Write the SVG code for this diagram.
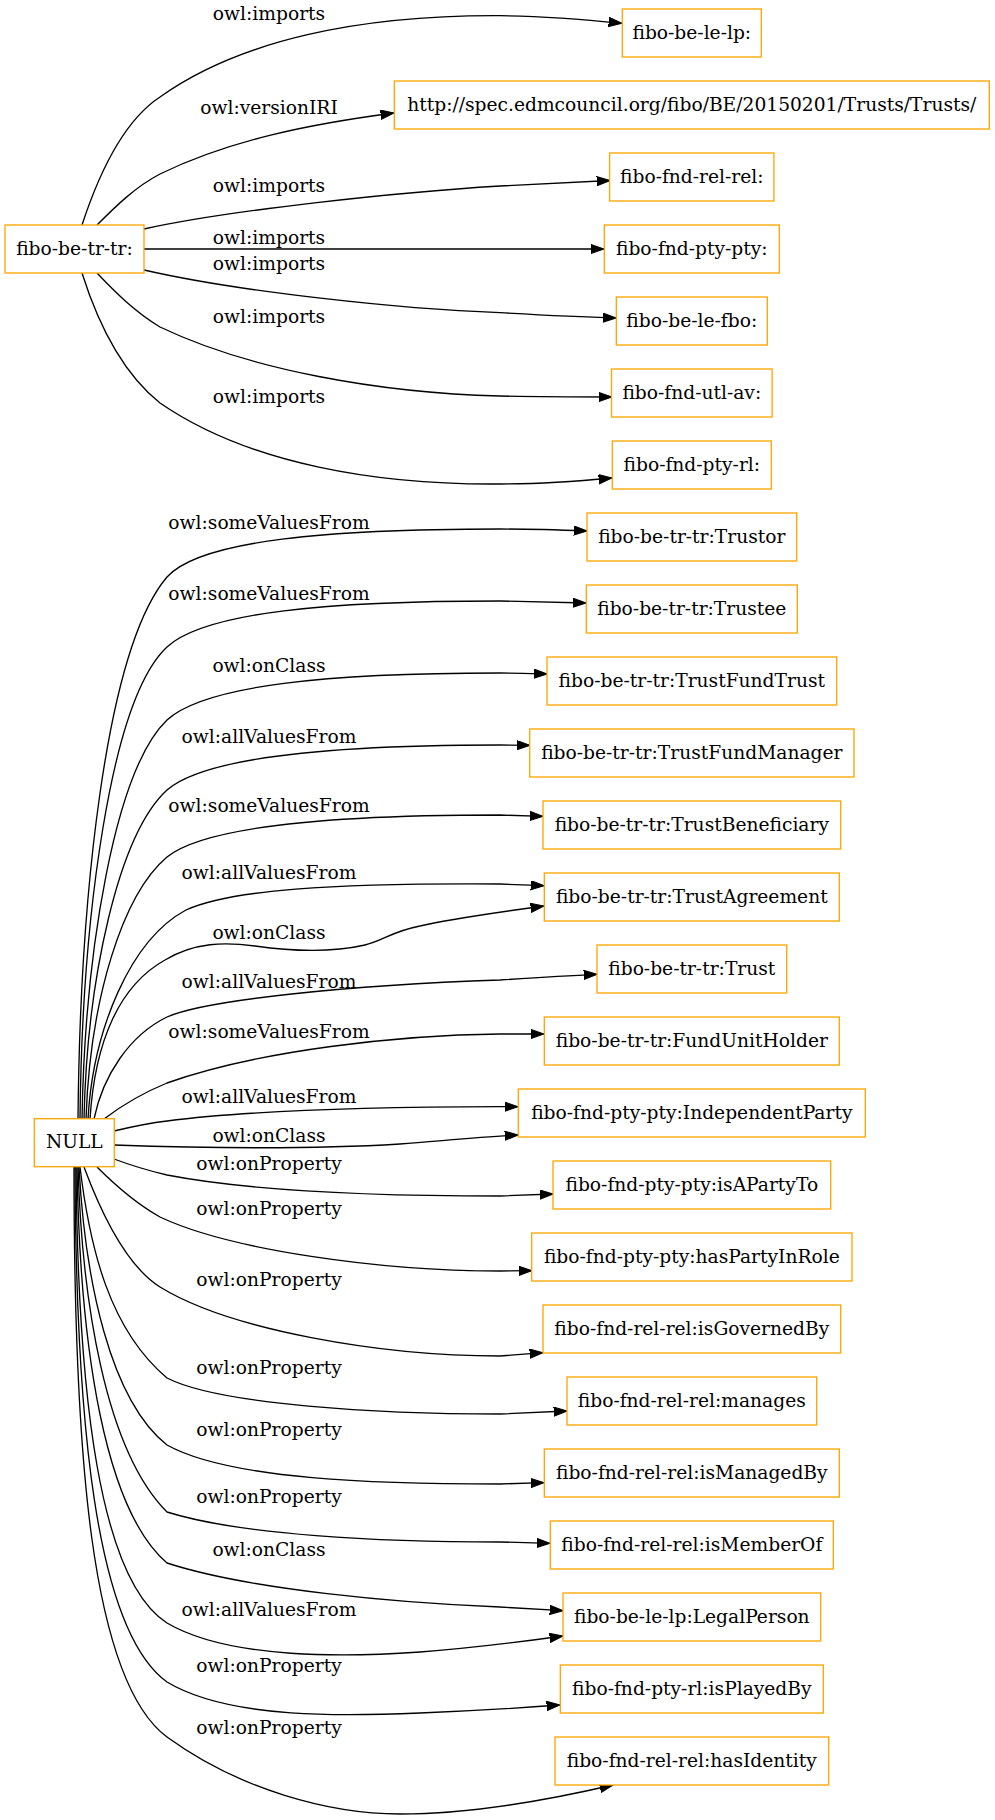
<svg xmlns="http://www.w3.org/2000/svg" width="995" height="1820" viewBox="0 0 995 1820">
<style>
.node rect{fill:#fff;stroke:#ffa500;stroke-width:1.33}
.node text,.lbl{font-family:"DejaVu Serif","Liberation Serif",serif;font-size:18.67px;fill:#000;text-anchor:middle}
.edges path{fill:none;stroke:#000;stroke-width:1.33;marker-end:url(#ah)}
</style>
<defs>
<marker id="ah" markerUnits="userSpaceOnUse" markerWidth="14" markerHeight="10" refX="13.33" refY="4.67" orient="auto">
<path d="M0,0 L13.33,4.67 L0,9.33 z" fill="#000" stroke="#000" stroke-width="1"/>
</marker>
</defs>
<rect width="995" height="1820" fill="#fff"/>
<g class="edges" id="connectors">
<path d="M82,225 C100,170 125,120 160,97 C240,40 360,15 500,15.7 C540,16 580,19 622,23.3"/>
<text class="lbl" x="269" y="20">owl:imports</text>
<path d="M97,225 C115,207 135,187 160,174 C230,140 310,124 394,113"/>
<text class="lbl" x="269" y="114">owl:versionIRI</text>
<path d="M144,229 C230,210 400,192 500,186 C540,184 580,182 610,180.5"/>
<text class="lbl" x="269" y="192">owl:imports</text>
<path d="M144,249 L604,249"/>
<text class="lbl" x="269" y="244">owl:imports</text>
<path d="M144,270 C240,292 400,309 500,312.7 C540,315 580,317 616,318"/>
<text class="lbl" x="269" y="270">owl:imports</text>
<path d="M97,273 C115,292 135,312 160,327 C250,370 380,393 500,396 C540,397 580,397 612,397"/>
<text class="lbl" x="269" y="323">owl:imports</text>
<path d="M82,273 C100,330 125,375 160,403 C250,465 380,485 500,484 C540,484 580,481 612,478"/>
<text class="lbl" x="269" y="403">owl:imports</text>

<path d="M78,1119 C80,900 105,650 167,577 C200,540 330,529 500,529 C530,529 560,530 587,531"/>
<text class="lbl" x="269" y="529">owl:someValuesFrom</text>
<path d="M80,1119 C82,920 110,700 167,647 C205,612 330,601 500,601 C530,601.5 560,602.5 586,603"/>
<text class="lbl" x="269" y="600">owl:someValuesFrom</text>
<path d="M82,1119 C85,950 115,770 167,720 C205,685 330,673 500,673 C515,673 530,673.5 547,674"/>
<text class="lbl" x="269" y="672">owl:onClass</text>
<path d="M84,1119 C87,980 118,835 167,790 C205,757 330,745 500,745 L530,745.3"/>
<text class="lbl" x="269" y="743">owl:allValuesFrom</text>
<path d="M86,1119 C90,1000 122,895 167,857 C205,826 330,815 500,815 L543,816.3"/>
<text class="lbl" x="269" y="812">owl:someValuesFrom</text>
<path d="M88,1119 C93,1030 130,940 186,910 C230,890 330,883 500,884 L544,885.7"/>
<text class="lbl" x="269" y="879">owl:allValuesFrom</text>
<path d="M90,1119 C95,1040 120,985 165,960 C195,942 225,942 255,946 C290,951 330,953 365,945 C385,940 390,932 420,926 C450,919 500,912 544,906"/>
<text class="lbl" x="269" y="939">owl:onClass</text>
<path d="M94,1119 C103,1075 130,1035 167,1017 C205,1000 350,985 500,980 C530,978 560,976 597,974.3"/>
<text class="lbl" x="269" y="988">owl:allValuesFrom</text>
<path d="M104,1119 C125,1103 145,1092 167,1083 C260,1050 400,1035 500,1034 L544,1034"/>
<text class="lbl" x="269" y="1038">owl:someValuesFrom</text>
<path d="M114,1131 C135,1126 150,1123 167,1121 C260,1109 400,1107 500,1106.7 L518,1106.7"/>
<text class="lbl" x="269" y="1103">owl:allValuesFrom</text>
<path d="M114,1145 C200,1148 300,1150 400,1144 C440,1141 480,1137 518,1135"/>
<text class="lbl" x="269" y="1142">owl:onClass</text>
<path d="M114,1159 C130,1165 150,1171 167,1175 C260,1193 400,1196 500,1196 L553,1194"/>
<text class="lbl" x="269" y="1170">owl:onProperty</text>
<path d="M97,1167 C115,1185 135,1203 160,1217 C230,1250 380,1271 500,1271 L532,1270.7"/>
<text class="lbl" x="269" y="1215">owl:onProperty</text>
<path d="M84,1167 C100,1210 125,1265 160,1287 C230,1330 380,1356 500,1356 L543,1352.7"/>
<text class="lbl" x="269" y="1286">owl:onProperty</text>
<path d="M80,1167 C90,1250 110,1330 167,1378 C220,1405 380,1414 500,1414 L567,1411"/>
<text class="lbl" x="269" y="1374">owl:onProperty</text>
<path d="M79,1167 C85,1280 110,1400 167,1445 C230,1480 380,1484 500,1484 L544,1482.7"/>
<text class="lbl" x="269" y="1436">owl:onProperty</text>
<path d="M78,1167 C82,1300 105,1450 167,1512 C240,1535 380,1542 500,1542 L550,1543.3"/>
<text class="lbl" x="269" y="1503">owl:onProperty</text>
<path d="M77,1167 C80,1350 105,1510 167,1563 C250,1590 400,1603 500,1607 L563,1610.7"/>
<text class="lbl" x="269" y="1556">owl:onClass</text>
<path d="M76,1167 C78,1400 100,1580 167,1623 C230,1660 350,1657 420,1652 C460,1649 520,1642 563,1636"/>
<text class="lbl" x="269" y="1616">owl:allValuesFrom</text>
<path d="M75,1167 C76,1420 95,1630 167,1682 C230,1720 350,1716 420,1713 C470,1711 520,1708 560,1705"/>
<text class="lbl" x="269" y="1672">owl:onProperty</text>
<path d="M74,1167 C74,1450 90,1680 167,1737 C240,1790 330,1814 400,1814 C470,1814 540,1802 613,1785"/>
<text class="lbl" x="269" y="1734">owl:onProperty</text>
</g>

<g class="node" id="n-fibo-be-tr-tr"><rect x="5" y="225" width="139" height="48"/><text x="74.5" y="254.5">fibo-be-tr-tr:</text></g>
<g class="node" id="n-NULL"><rect x="34.3" y="1118.7" width="80" height="48"/><text x="74.3" y="1148.2">NULL</text></g>

<g class="node" id="n-fibo-be-le-lp"><rect x="622.3" y="9" width="139" height="48"/><text x="691.8" y="38.5">fibo-be-le-lp:</text></g>
<g class="node" id="n-versionIRI"><rect x="394.3" y="81" width="595" height="48"/><text x="691.8" y="110.5">http://spec.edmcouncil.org/fibo/BE/20150201/Trusts/Trusts/</text></g>
<g class="node" id="n-fibo-fnd-rel-rel"><rect x="609.6" y="153" width="164.3" height="48"/><text x="691.8" y="182.5">fibo-fnd-rel-rel:</text></g>
<g class="node" id="n-fibo-fnd-pty-pty"><rect x="604.3" y="225" width="175" height="48"/><text x="691.8" y="254.5">fibo-fnd-pty-pty:</text></g>
<g class="node" id="n-fibo-be-le-fbo"><rect x="616.3" y="297" width="151" height="48"/><text x="691.8" y="326.5">fibo-be-le-fbo:</text></g>
<g class="node" id="n-fibo-fnd-utl-av"><rect x="611.5" y="369" width="160.6" height="48"/><text x="691.8" y="398.5">fibo-fnd-utl-av:</text></g>
<g class="node" id="n-fibo-fnd-pty-rl"><rect x="612.3" y="441" width="159" height="48"/><text x="691.8" y="470.5">fibo-fnd-pty-rl:</text></g>
<g class="node" id="n-Trustor"><rect x="587" y="513" width="209.7" height="48"/><text x="691.8" y="542.5">fibo-be-tr-tr:Trustor</text></g>
<g class="node" id="n-Trustee"><rect x="586.3" y="585" width="211" height="48"/><text x="691.8" y="614.5">fibo-be-tr-tr:Trustee</text></g>
<g class="node" id="n-TrustFundTrust"><rect x="547" y="657" width="289.7" height="48"/><text x="691.8" y="686.5">fibo-be-tr-tr:TrustFundTrust</text></g>
<g class="node" id="n-TrustFundManager"><rect x="529.7" y="729" width="324.3" height="48"/><text x="691.8" y="758.5">fibo-be-tr-tr:TrustFundManager</text></g>
<g class="node" id="n-TrustBeneficiary"><rect x="543" y="801" width="297.7" height="48"/><text x="691.8" y="830.5">fibo-be-tr-tr:TrustBeneficiary</text></g>
<g class="node" id="n-TrustAgreement"><rect x="544.3" y="873" width="295" height="48"/><text x="691.8" y="902.5">fibo-be-tr-tr:TrustAgreement</text></g>
<g class="node" id="n-Trust"><rect x="597" y="945" width="189.7" height="48"/><text x="691.8" y="974.5">fibo-be-tr-tr:Trust</text></g>
<g class="node" id="n-FundUnitHolder"><rect x="544.3" y="1017" width="295" height="48"/><text x="691.8" y="1046.5">fibo-be-tr-tr:FundUnitHolder</text></g>
<g class="node" id="n-IndependentParty"><rect x="518.3" y="1089" width="347" height="48"/><text x="691.8" y="1118.5">fibo-fnd-pty-pty:IndependentParty</text></g>
<g class="node" id="n-isAPartyTo"><rect x="553" y="1161" width="277.7" height="48"/><text x="691.8" y="1190.5">fibo-fnd-pty-pty:isAPartyTo</text></g>
<g class="node" id="n-hasPartyInRole"><rect x="531.7" y="1233" width="320.3" height="48"/><text x="691.8" y="1262.5">fibo-fnd-pty-pty:hasPartyInRole</text></g>
<g class="node" id="n-isGovernedBy"><rect x="543" y="1305" width="297.7" height="48"/><text x="691.8" y="1334.5">fibo-fnd-rel-rel:isGovernedBy</text></g>
<g class="node" id="n-manages"><rect x="567" y="1377" width="249.7" height="48"/><text x="691.8" y="1406.5">fibo-fnd-rel-rel:manages</text></g>
<g class="node" id="n-isManagedBy"><rect x="544.3" y="1449" width="295" height="48"/><text x="691.8" y="1478.5">fibo-fnd-rel-rel:isManagedBy</text></g>
<g class="node" id="n-isMemberOf"><rect x="550.3" y="1521" width="283" height="48"/><text x="691.8" y="1550.5">fibo-fnd-rel-rel:isMemberOf</text></g>
<g class="node" id="n-LegalPerson"><rect x="563" y="1593" width="257.7" height="48"/><text x="691.8" y="1622.5">fibo-be-le-lp:LegalPerson</text></g>
<g class="node" id="n-isPlayedBy"><rect x="560.3" y="1665" width="263" height="48"/><text x="691.8" y="1694.5">fibo-fnd-pty-rl:isPlayedBy</text></g>
<g class="node" id="n-hasIdentity"><rect x="555" y="1737" width="273.7" height="48"/><text x="691.8" y="1766.5">fibo-fnd-rel-rel:hasIdentity</text></g>
</svg>
